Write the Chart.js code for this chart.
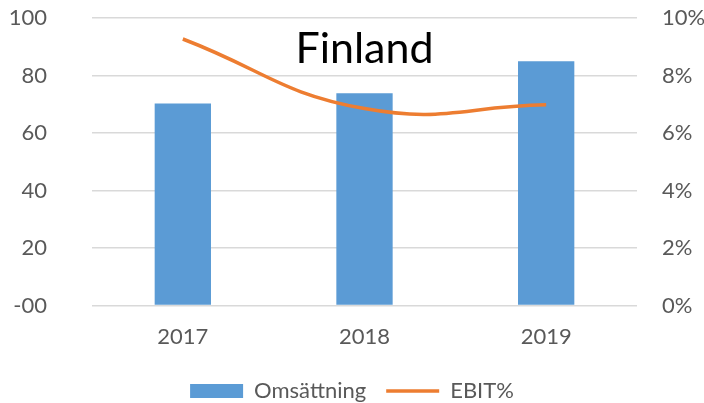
<!DOCTYPE html>
<html>
<head>
<meta charset="utf-8">
<script src="https://cdn.jsdelivr.net/npm/chart.js@4"></script>
<style>
  html, body { margin: 0; padding: 0; background: #fff; }
  #wrap { width: 704px; height: 403px; }
</style>
</head>
<body>
<div id="wrap"><canvas id="finlandChart"></canvas></div>
<script>
const years = ['2017', '2018', '2019'];
const omsattning = [70.3, 73.8, 85.0];
const ebitPct = [9.27, 6.85, 6.98];
const leftTicks = [0, 20, 40, 60, 80, 100];
const rightTicks = [0, 2, 4, 6, 8, 10];

const FONT = 'Lato, "Open Sans", sans-serif';

// draws the "Finland" title inside the plot area, like the Excel original
const innerTitle = {
    id: 'innerTitle',
    afterDatasetsDraw(chart) {
        const { ctx, chartArea } = chart;
        ctx.save();
        ctx.font = '43px ' + FONT;
        ctx.fillStyle = '#000';
        ctx.textAlign = 'center';
        ctx.textBaseline = 'alphabetic';
        ctx.fillText('Finland', (chartArea.left + chartArea.right) / 2, chartArea.top + 45);
        ctx.restore();
    }
};

// fixed axis sizes so the plot area lands where the original has it
function fitVertical(width) {
    return axis => {
        axis.width = width;
        axis.paddingTop = 0;
        axis.paddingBottom = 0;
    };
}

const ctx = document.getElementById('finlandChart').getContext('2d');
new Chart(ctx, {
    type: 'bar',
    data: {
        labels: years,
        datasets: [
            {
                type: 'line',
                label: 'EBIT%',
                data: ebitPct,
                yAxisID: 'y1',
                borderColor: '#ed7d31',
                backgroundColor: '#ed7d31',
                borderWidth: 3.5,
                pointRadius: 0,
                tension: 0.45,
                pointStyle: 'line',
                order: 0
            },
            {
                label: 'Omsättning',
                data: omsattning,
                yAxisID: 'y',
                backgroundColor: '#5b9bd5',
                borderWidth: 0,
                categoryPercentage: 1,
                barPercentage: 0.31,
                pointStyle: 'rect',
                order: 1
            }
        ]
    },
    options: {
        responsive: true,
        maintainAspectRatio: false,
        animation: false,
        layout: { padding: { top: 18, left: 0, right: 0, bottom: -9 } },
        plugins: {
            legend: {
                position: 'bottom',
                reverse: true,
                labels: {
                    usePointStyle: true,
                    pointStyleWidth: 53,
                    boxHeight: 14,
                    color: '#595959',
                    font: { family: FONT, size: 22 },
                    padding: 20
                }
            },
            tooltip: { enabled: false }
        },
        scales: {
            x: {
                grid: { display: false },
                border: { display: false },
                ticks: { color: '#595959', font: { family: FONT, size: 22 }, padding: 10 }
            },
            y: {
                position: 'left',
                min: 0,
                max: 100,
                afterBuildTicks: axis => { axis.ticks = leftTicks.map(v => ({ value: v })); },
                ticks: {
                    color: '#595959',
                    font: { family: FONT, size: 22 },
                    padding: 45,
                    callback: v => v === 0 ? '-00' : v
                },
                grid: { color: '#d9d9d9', lineWidth: 1.5, drawTicks: false },
                border: { display: false },
                afterFit: fitVertical(92)
            },
            y1: {
                position: 'right',
                min: 0,
                max: 10,
                afterBuildTicks: axis => { axis.ticks = rightTicks.map(v => ({ value: v })); },
                ticks: {
                    color: '#595959',
                    font: { family: FONT, size: 22 },
                    padding: 25,
                    callback: v => v + '%'
                },
                grid: { display: false, drawTicks: false },
                border: { display: false },
                afterFit: fitVertical(67)
            }
        }
    },
    plugins: [innerTitle]
});
</script>
</body>
</html>
